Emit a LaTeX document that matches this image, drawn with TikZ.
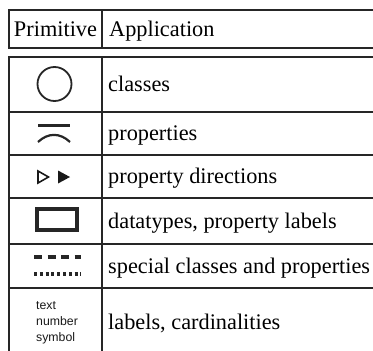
\documentclass[tikz,border=0pt]{standalone}
\usepackage{fontspec}
\setmainfont{Liberation Serif}
\newfontfamily\smallsans{Liberation Sans}
\begin{document}
\begin{tikzpicture}[x=1pt,y=-1pt,
  gridline/.style={line width=1.8pt,color=black!85},
  celltext/.style={anchor=base west,inner sep=0pt,font=\fontsize{22.3}{26}\selectfont},
  headtext/.style={anchor=base,inner sep=0pt,font=\fontsize{22.3}{26}\selectfont},
  symline/.style={line width=1.8pt,color=black!85},
  smalltext/.style={anchor=base west,inner sep=0pt,font=\smallsans\fontsize{12.3}{14}\selectfont,color=black!90}]
\useasboundingbox (0,0) rectangle (373,351);
\clip (0,0) rectangle (373,351);
% header
\draw[gridline] (380,10) -- (9,10) -- (9,48) -- (380,48);
\draw[gridline] (102,10) -- (102,48);
% main table
\draw[gridline] (380,57) -- (9,57) -- (9,360);
\draw[gridline] (102,57) -- (102,360);
\foreach \yy in {112,155,198,244,288} {\draw[gridline] (9,\yy) -- (380,\yy);}
% header text
\node[headtext] (hp) at (55.5,36) {Primitive};
\node[celltext] (ha) at (109,36) {Application};
% row texts
\node[celltext] (t1) at (108,91) {classes};
\node[celltext] (t2) at (108,140) {properties};
\node[celltext] (t3) at (108,183.5) {property directions};
\node[celltext] (t4) at (108,228) {datatypes, property labels};
\node[celltext] (t5) at (108,273) {special classes and properties};
\node[celltext] (t6) at (108,329) {labels, cardinalities};
% symbols
\draw[symline] (54.5,84) circle (17);
\draw[line width=3pt,color=black!85] (38,125) -- (70,125);
\draw[line width=2.2pt,color=black!85] (38,142) .. controls (48,132.5) and (60,132.5) .. (70,142);
\draw[line width=1.6pt,color=black!90,line join=miter] (38,171) -- (38,183) -- (48.5,177) -- cycle;
\fill[black!90] (58,170.5) -- (58,183.5) -- (70,177) -- cycle;
\draw[line width=4pt,color=black!85] (37,209) rectangle (77,230);
\draw[line width=3.2pt,color=black!85,dash pattern=on 8pt off 5.5pt] (34,257) -- (81,257);
\draw[line width=3.2pt,color=black!85,dash pattern=on 3pt off 2.8pt] (34,274) -- (81,274);
\node[smalltext] (s1) at (36,309) {text};
\node[smalltext] (s2) at (36,325) {number};
\node[smalltext] (s3) at (36,341) {symbol};
\end{tikzpicture}
\end{document}
